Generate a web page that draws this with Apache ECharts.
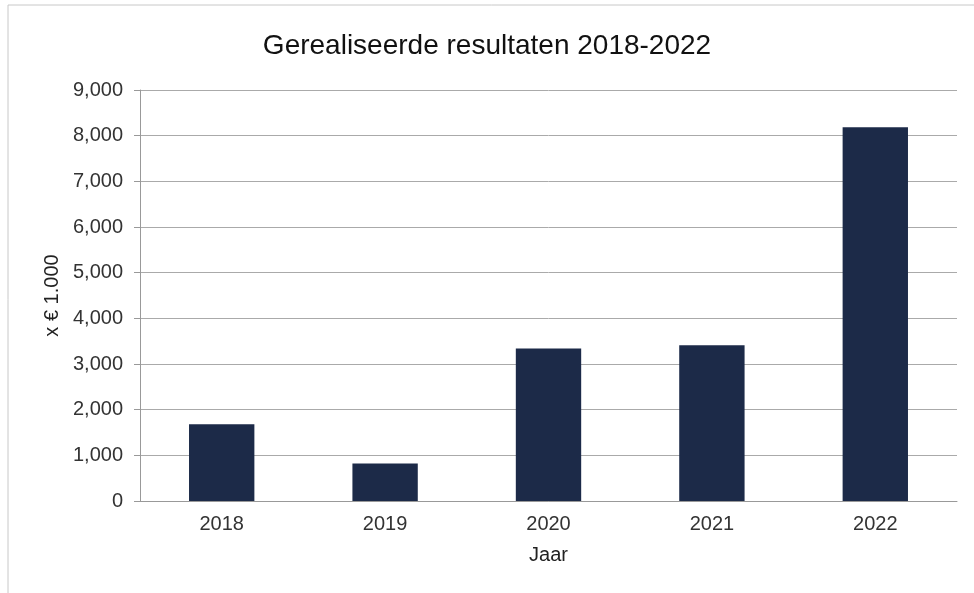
<!DOCTYPE html>
<html><head><meta charset="utf-8">
<script src="https://cdn.jsdelivr.net/npm/echarts@6/dist/echarts.min.js"></script>
<style>html,body{margin:0;padding:0;background:#fff}#c{width:974px;height:593px}</style>
</head><body><div id="c"></div>
<script>
const categories = ['2018','2019','2020','2021','2022'];
const values = [1680, 820, 3340, 3410, 8185];
const yTicks = [0,1000,2000,3000,4000,5000,6000,7000,8000,9000];

const chart = echarts.init(document.getElementById('c'));
chart.setOption({
  animation:false,
  backgroundColor:'#fff',
  graphic:[{type:'rect',shape:{x:8,y:5,width:990,height:600},style:{fill:'none',stroke:'#c8c8c8',lineWidth:1}}],
  title:{text:'Gerealiseerde resultaten 2018-2022',left:'center',top:27,
    textStyle:{fontFamily:'Liberation Sans, Arial',fontSize:28,fontWeight:'normal',color:'#111'}},
  grid:{left:140,right:17,top:90,bottom:92},
  xAxis:{type:'category',data:categories,name:'Jaar',nameLocation:'middle',nameGap:44,
    nameTextStyle:{fontFamily:'Liberation Sans, Arial',fontSize:20,color:'#222'},
    axisLine:{lineStyle:{color:'#999'}},axisTick:{show:false},
    axisLabel:{fontFamily:'Liberation Sans, Arial',fontSize:20,color:'#333',margin:13}},
  yAxis:{type:'value',min:0,max:9000,interval:1000,name:'x € 1.000',nameLocation:'middle',nameGap:70,
    nameTextStyle:{fontFamily:'Liberation Sans, Arial',fontSize:20,color:'#222'},
    axisLine:{show:true,lineStyle:{color:'#999'}},axisTick:{show:true,length:6,lineStyle:{color:'#999'}},
    splitLine:{lineStyle:{color:'#aaa'}},
    axisLabel:{fontFamily:'Liberation Sans, Arial',fontSize:20,color:'#333',margin:17,
      formatter:v=>yTicks.includes(v)?v.toLocaleString('en-US'):''}},
  series:[{type:'bar',data:values,barWidth:'40%',itemStyle:{color:'#1c2a48'}}]
});
</script></body></html>
